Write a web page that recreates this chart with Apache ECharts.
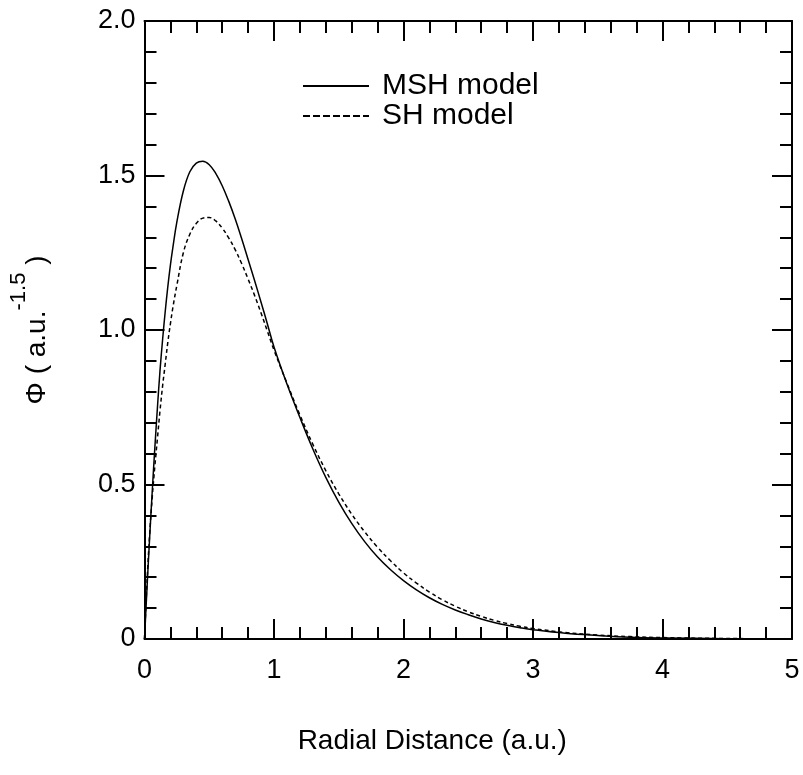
<!DOCTYPE html>
<html>
<head>
<meta charset="utf-8">
<script src="https://cdn.jsdelivr.net/npm/echarts@6/dist/echarts.min.js"></script>
<style>html,body{margin:0;padding:0;background:#fff}#c{width:803px;height:775px}</style>
</head>
<body>
<div id="c"></div>
<script>
// MSH model (solid)
var mshX = [0, 0.02, 0.04, 0.06, 0.08, 0.10, 0.12, 0.14, 0.16, 0.18, 0.20, 0.22, 0.25, 0.30, 0.35, 0.40, 0.45, 0.50, 0.55, 0.60, 0.65, 0.70, 0.75, 0.80, 0.85, 0.90, 0.95, 1.00, 1.10, 1.20, 1.30, 1.40, 1.50, 1.60, 1.70, 1.80, 1.90, 2.00, 2.10, 2.20, 2.30, 2.40, 2.50, 2.60, 2.70, 2.80, 2.90, 3.00, 3.25, 3.50, 3.75, 4.00, 4.50, 5.00];
var mshY = [0, 0.17, 0.33, 0.48, 0.62, 0.75, 0.87, 0.97, 1.06, 1.14, 1.21, 1.27, 1.35, 1.45, 1.512, 1.540, 1.546, 1.535, 1.507, 1.467, 1.417, 1.36, 1.296, 1.228, 1.16, 1.09, 1.018, 0.945, 0.825, 0.717, 0.615, 0.523, 0.443, 0.374, 0.315, 0.265, 0.224, 0.189, 0.159, 0.1335, 0.112, 0.094, 0.0787, 0.065, 0.0537, 0.0444, 0.0367, 0.0303, 0.0187, 0.0115, 0.006, 0.0035, 0.0012, 0.0004];
// SH model (dashed)
var shX = [0, 0.02, 0.04, 0.06, 0.08, 0.10, 0.12, 0.14, 0.16, 0.18, 0.20, 0.22, 0.25, 0.30, 0.35, 0.40, 0.45, 0.50, 0.55, 0.60, 0.65, 0.70, 0.75, 0.80, 0.85, 0.90, 0.95, 1.00, 1.10, 1.20, 1.30, 1.40, 1.50, 1.60, 1.70, 1.80, 1.90, 2.00, 2.10, 2.20, 2.30, 2.40, 2.50, 2.60, 2.70, 2.80, 2.90, 3.00, 3.25, 3.50, 3.75, 4.00, 4.50, 5.00];
var shY = [0, 0.19, 0.34, 0.46, 0.56, 0.65, 0.74, 0.82, 0.89, 0.96, 1.02, 1.075, 1.145, 1.25, 1.31, 1.345, 1.362, 1.364, 1.353, 1.33, 1.298, 1.26, 1.215, 1.165, 1.112, 1.055, 0.995, 0.935, 0.828, 0.725, 0.630, 0.545, 0.470, 0.404, 0.347, 0.297, 0.253, 0.214, 0.181, 0.152, 0.127, 0.106, 0.0882, 0.0731, 0.0604, 0.0499, 0.0412, 0.0339, 0.021, 0.0128, 0.0077, 0.0046, 0.0016, 0.0005];
var seriesNames = ['MSH model', 'SH model'];
var xTitle = 'Radial Distance (a.u.)';

function pairs(xs, ys) { return xs.map(function (x, i) { return [x, ys[i]]; }); }

var font = 'Liberation Sans, Arial, Helvetica, sans-serif';
var axisLine = { show: true, onZero: false, lineStyle: { color: '#000', width: 2 } };
var tick = { show: true, inside: true, length: 20, lineStyle: { color: '#000', width: 2 } };
var minor = { show: true, inside: true, splitNumber: 5, length: 12, lineStyle: { color: '#000', width: 2 } };

var chart = echarts.init(document.getElementById('c'), null, { renderer: 'canvas' });
chart.setOption({
  backgroundColor: '#fff',
  animation: false,
  grid: { left: 144.5, right: 11, top: 21, bottom: 136, containLabel: false, outerBoundsMode: 'none' },
  legend: {
    orient: 'vertical', left: 297, top: 66, itemGap: 0, padding: 5,
    itemWidth: 66, itemHeight: 14,
    itemStyle: { opacity: 0 },
    lineStyle: { width: 2 },
    textStyle: { fontFamily: font, fontSize: 30, color: '#000', lineHeight: 28, padding: [0, 0, 0, 8] },
    data: [
      { name: seriesNames[0], lineStyle: { type: 'solid', width: 2 } },
      { name: seriesNames[1], lineStyle: { type: [7, 3], width: 2 } }
    ]
  },
  xAxis: [{
    type: 'value', min: 0, max: 5, interval: 1, position: 'bottom',
    axisLine: axisLine, axisTick: tick, minorTick: minor, splitLine: { show: false },
    axisLabel: { fontFamily: font, fontSize: 27, color: '#000', margin: 18 },
    name: xTitle, nameLocation: 'middle', nameGap: 88,
    nameTextStyle: { fontFamily: font, fontSize: 28, color: '#000', padding: [0, 72, 0, 0] }
  }, {
    type: 'value', min: 0, max: 5, interval: 1, position: 'top',
    axisLine: axisLine, axisTick: tick, minorTick: minor, splitLine: { show: false },
    axisLabel: { show: false }
  }],
  yAxis: [{
    type: 'value', min: 0, max: 2, interval: 0.5, position: 'left',
    axisLine: axisLine, axisTick: tick, minorTick: minor, splitLine: { show: false },
    axisLabel: { fontFamily: font, fontSize: 27, color: '#000', margin: 9,
      formatter: function (v) { return v === 0 ? '0' : v.toFixed(1); } },
    name: '{a|Φ ( a.u.}{s|-1.5}{a| )}', nameLocation: 'middle', nameGap: 77,
    nameTextStyle: { fontFamily: font, fontSize: 28, color: '#000',
      rich: { a: { fontFamily: font, fontSize: 28, color: '#000' },
              s: { fontFamily: font, fontSize: 22, color: '#000', padding: [0, 0, 38, 0] } } }
  }, {
    type: 'value', min: 0, max: 2, interval: 0.5, position: 'right',
    axisLine: axisLine, axisTick: tick, minorTick: minor, splitLine: { show: false },
    axisLabel: { show: false }
  }],
  series: [{
    name: seriesNames[0], type: 'line', data: pairs(mshX, mshY),
    showSymbol: false, symbol: 'none', smooth: 0.4,
    lineStyle: { color: '#000', width: 1.5, type: 'solid' }, itemStyle: { color: '#000' }
  }, {
    name: seriesNames[1], type: 'line', data: pairs(shX, shY),
    showSymbol: false, symbol: 'none', smooth: 0.4,
    lineStyle: { color: '#000', width: 1.5, type: [4, 3] }, itemStyle: { color: '#000' }
  }]
});
</script>
</body>
</html>
